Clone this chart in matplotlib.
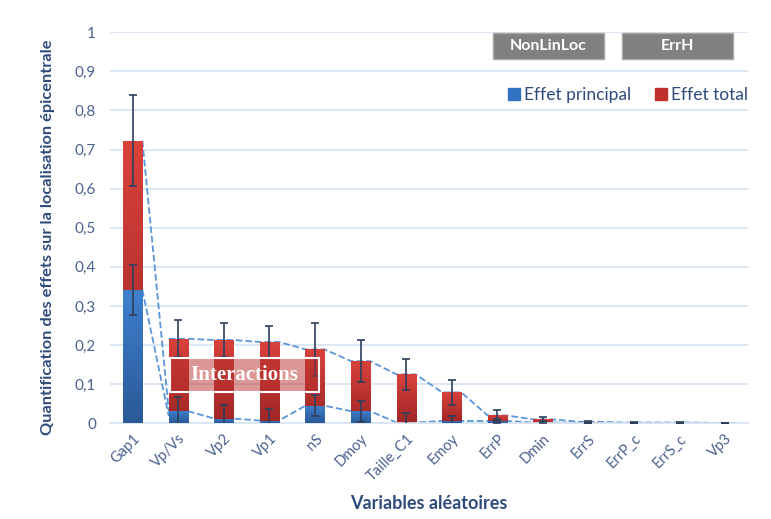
"""
Indices de sensibilité : effet principal vs effet total (localisation épicentrale)
"""

import matplotlib.pyplot as plt
import numpy as np
from matplotlib.patches import Rectangle
from matplotlib.colors import LinearSegmentedColormap
from matplotlib.ticker import FuncFormatter

plt.rcParams['font.family'] = ['Lato', 'DejaVu Sans']

# Variables aléatoires
categories = ['Gap1', 'Vp/Vs', 'Vp2', 'Vp1', 'nS', 'Dmoy', 'Taille_C1', 'Emoy',
              'ErrP', 'Dmin', 'ErrS', 'ErrP_c', 'ErrS_c', 'Vp3']

# Effet total (indices de Sobol totaux) + barres d'erreur
total = [0.723, 0.216, 0.213, 0.208, 0.189, 0.159, 0.125, 0.079,
         0.020, 0.010, 0.004, 0.002, 0.002, 0.001]
total_err = [0.117, 0.047, 0.043, 0.041, 0.068, 0.053, 0.039, 0.032,
             0.015, 0.007, 0.003, 0.001, 0.001, 0.001]

# Effet principal (indices du premier ordre) + barres d'erreur
principal = [0.341, 0.031, 0.012, 0.007, 0.045, 0.031, 0.002, 0.006,
             0.006, 0.002, 0.001, 0.0, 0.0, 0.0]
principal_err = [0.065, 0.035, 0.035, 0.029, 0.027, 0.027, 0.024, 0.012,
                 0.005, 0.003, 0.001, 0.0005, 0.0005, 0.0005]

yticks = [0, 0.1, 0.2, 0.3, 0.4, 0.5, 0.6, 0.7, 0.8, 0.9, 1]

txt_color = '#2F4B7C'
tick_color = '#4A6190'
grid_color = '#D6E3F1'
err_color = '#2E3F5C'
dash_color = '#5B96DA'

red_cmap = LinearSegmentedColormap.from_list('red', ['#9E2626', '#D9423B'])
blue_cmap = LinearSegmentedColormap.from_list('blue', ['#2A5996', '#3F80CF'])

fig = plt.figure(figsize=(7.71, 5.19), dpi=100)
ax = fig.add_axes([0.1427, 0.1844, 0.8273, 0.7534])

x = np.arange(len(categories))
w = 0.42
grad = np.linspace(0, 1, 256).reshape(-1, 1)


def gradient_bars(bars, cmap):
    for b in bars:
        h = b.get_height()
        if h <= 0:
            continue
        x0 = b.get_x()
        im = ax.imshow(grad, cmap=cmap, origin='lower', aspect='auto',
                       extent=(x0, x0 + b.get_width(), 0, h), zorder=b.get_zorder())
        im.set_clip_path(b)


bars_t = ax.bar(x, total, width=w, color='#C0392B', zorder=2)
gradient_bars(bars_t, red_cmap)
bars_p = ax.bar(x, principal, width=w, color='#2F6BB5', zorder=3)
gradient_bars(bars_p, blue_cmap)

ax.errorbar(x, total, yerr=total_err, fmt='none', ecolor=err_color,
            elinewidth=1.2, capsize=3, capthick=1.2, zorder=5)
ax.errorbar(x, principal, yerr=principal_err, fmt='none', ecolor=err_color,
            elinewidth=1.2, capsize=3, capthick=1.2, zorder=5)

# Lignes pointillées (enveloppes)
t = np.array(total)
p = np.array(principal)
ax.plot([x[0] + w / 2, x[1] - w / 2], [t[0], p[1]], '--', color=dash_color, lw=1.3, zorder=1.5)
ax.plot([x[0] + w / 2, x[1] - w / 2], [p[0], p[1] * 0.6], '--', color=dash_color, lw=1.3, zorder=1.5)
xs = np.ravel(np.column_stack([x[1:] - w / 2, x[1:] + w / 2]))
ax.plot(xs, np.repeat(t[1:], 2), '--', color=dash_color, lw=1.3, zorder=1.5)
ax.plot(xs, np.repeat(p[1:], 2), '--', color=dash_color, lw=1.3, zorder=1.5)

# Encadré "Interactions"
ax.add_patch(Rectangle((0.81, 0.080), 3.28, 0.087, facecolor='#B8302D', alpha=0.5,
                       edgecolor='none', zorder=6))
ax.add_patch(Rectangle((0.81, 0.080), 3.28, 0.087, facecolor='none',
                       edgecolor='white', lw=1.5, zorder=6))
ax.text(2.45, 0.1235, 'Interactions', ha='center', va='center', color='white',
        fontsize=15, fontweight='bold', family='Liberation Serif', zorder=7)

# Boîtes grises
for cx, lab in [(0.687, 'NonLinLoc'), (0.8895, 'ErrH')]:
    ax.add_patch(Rectangle((cx - 0.087, 0.932), 0.174, 0.0665, transform=ax.transAxes,
                           facecolor='#808080', edgecolor='#A8A8A8', lw=1, zorder=6,
                           clip_on=False))
    ax.text(cx, 0.965, lab, transform=ax.transAxes, ha='center', va='center',
            color='white', fontsize=11.5, fontweight='bold', zorder=7)

# Légende
h1 = plt.Line2D([], [], marker='s', ls='none', color='#3373C4', markersize=8)
h2 = plt.Line2D([], [], marker='s', ls='none', color='#C0302C', markersize=8)
leg = ax.legend([h1, h2], ['Effet principal', 'Effet total'], ncol=2, frameon=False,
                loc='center right', bbox_to_anchor=(1.025, 0.84), fontsize=12.5,
                handlelength=0.6, handletextpad=0.3, columnspacing=1.4, labelcolor=txt_color)

ax.set_xlim(-0.5, len(categories) - 0.5)
ax.set_ylim(0, 1)
ax.set_yticks(yticks)
ax.yaxis.set_major_formatter(FuncFormatter(
    lambda v, _: '{:g}'.format(round(v, 1)).replace('.', ',')))
ax.set_xticks(x)
ax.set_xticklabels(categories, rotation=45, ha='right', rotation_mode='anchor')
ax.tick_params(axis='y', length=0, pad=10, labelsize=11, labelcolor=tick_color)
ax.tick_params(axis='x', length=0, pad=6, labelsize=10.5, labelcolor=tick_color)

ax.grid(axis='y', color=grid_color, lw=1.2)
ax.set_axisbelow(True)
for s in ['top', 'right', 'left']:
    ax.spines[s].set_visible(False)
ax.spines['bottom'].set_color(grid_color)
ax.spines['bottom'].set_linewidth(1.2)

ax.set_ylabel('Quantification des effets sur la localisation épicentrale',
              fontsize=11.8, fontweight='bold', color=txt_color)
ax.yaxis.set_label_coords(-0.086, 0.475)
ax.set_xlabel('Variables aléatoires', fontsize=13, fontweight='bold',
              color=txt_color, labelpad=8)

fig.savefig('out.png', dpi=100, facecolor='white')
